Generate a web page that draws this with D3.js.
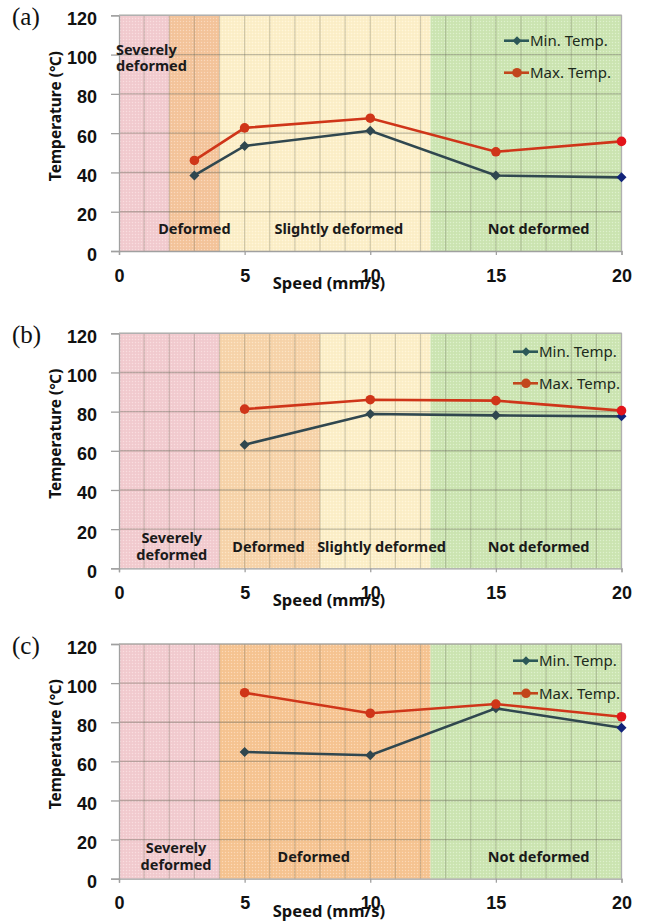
<!DOCTYPE html>
<html>
<head>
<meta charset="utf-8">
<script src="https://cdn.jsdelivr.net/npm/d3@7"></script>
<style>
  html, body { margin: 0; padding: 0; background: #fff; }
  svg { display: block; font-family: "Noto Sans", "Noto Sans CJK KR", sans-serif; }
</style>
</head>
<body>
<div id="chart"></div>
<script>
// data
const speedA = [3, 5, 10, 15, 20];
const minTempA = [38.5, 53.5, 61.2, 38.4, 37.5];
const maxTempA = [46.1, 62.7, 67.6, 50.5, 55.8];

const speedBC = [5, 10, 15, 20];
const minTempB = [63.1, 78.8, 78.1, 77.6];
const maxTempB = [81.3, 86.1, 85.6, 80.5];
const minTempC = [64.8, 63.1, 87.1, 77.2];
const maxTempC = [95.1, 84.6, 89.3, 82.8];

const zoneEdgesA = [0, 2, 4, 12.4, 20];
const zoneEdgesB = [0, 4, 8, 12.4, 20];
const zoneEdgesC = [0, 4, 12.4, 20];
const zoneNames4 = ['Severely deformed', 'Deformed', 'Slightly deformed', 'Not deformed'];
const zoneNames3 = ['Severely deformed', 'Deformed', 'Not deformed'];

const xTicks = [0, 5, 10, 15, 20];
const yTicks = [0, 20, 40, 60, 80, 100, 120];
const seriesNames = ['Min. Temp.', 'Max. Temp.'];

const zoneColor = {
  'Severely deformed': '#f3ccd0',
  'Deformed': '#f5c59c',
  'Slightly deformed': '#fdf0c9',
  'Not deformed': '#cde6b3'
};

const W = 648, H = 923;
const left = 119, right = 621.5;

const svg = d3.select('#chart').append('svg')
  .attr('width', W)
  .attr('height', H);

const defs = svg.append('defs');
const pat = defs.append('pattern')
  .attr('id', 'dots')
  .attr('width', 3).attr('height', 3)
  .attr('patternUnits', 'userSpaceOnUse');
pat.append('rect').attr('width', 1).attr('height', 1).attr('fill', '#fff').attr('opacity', 0.35);
pat.append('rect').attr('x', 1.5).attr('y', 1.5).attr('width', 1).attr('height', 1).attr('fill', '#000').attr('opacity', 0.04);

const panels = [
  {
    tag: '(a)', top: 15.3, bottom: 251,
    speed: speedA, min: minTempA, max: maxTempA,
    edges: zoneEdgesA, zones: zoneNames4, deformedColor: '#f5c59c',
    labels: [
      { lines: ['Severely', 'deformed'], x: -0.12, t: 100, anchor: 'start' },
      { lines: ['Deformed'], x: 3, t: 8.6 },
      { lines: ['Slightly deformed'], x: 8.75, t: 8.6 },
      { lines: ['Not deformed'], x: 16.7, t: 8.6 }
    ],
    legendX: -117.5, legendY: [25.4, 57.4]
  },
  {
    tag: '(b)', top: 333.3, bottom: 568.3,
    speed: speedBC, min: minTempB, max: maxTempB,
    edges: zoneEdgesB, zones: zoneNames4, deformedColor: '#f8d5ab',
    labels: [
      { lines: ['Severely', 'deformed'], x: 2.1, t: 12.7 },
      { lines: ['Deformed'], x: 5.95, t: 8.1 },
      { lines: ['Slightly deformed'], x: 10.45, t: 8.1 },
      { lines: ['Not deformed'], x: 16.7, t: 8.1 }
    ],
    legendX: -108.5, legendY: [18.4, 50]
  },
  {
    tag: '(c)', top: 644, bottom: 878.7,
    speed: speedBC, min: minTempC, max: maxTempC,
    edges: zoneEdgesC, zones: zoneNames3, deformedColor: '#f7c593',
    labels: [
      { lines: ['Severely', 'deformed'], x: 2.27, t: 13.1 },
      { lines: ['Deformed'], x: 7.75, t: 8.3 },
      { lines: ['Not deformed'], x: 16.7, t: 8.3 }
    ],
    legendX: -108.5, legendY: [16.7, 49.3]
  }
];

const minColor = '#30474f';
const maxColor = '#cf3519';

function diamond(sel, cx, cy, r, color) {
  sel.append('path')
    .attr('d', `M${cx},${cy - r}L${cx + r},${cy}L${cx},${cy + r}L${cx - r},${cy}Z`)
    .attr('fill', color);
}

panels.forEach(p => {
  const x = d3.scaleLinear().domain([0, 20]).range([left, right]);
  const y = d3.scaleLinear().domain([0, 120]).range([p.bottom, p.top]);
  const g = svg.append('g');

  // zones
  g.selectAll('rect.zone')
    .data(p.zones)
    .join('rect')
    .attr('class', 'zone')
    .attr('x', (d, i) => x(p.edges[i]))
    .attr('y', p.top)
    .attr('width', (d, i) => x(p.edges[i + 1]) - x(p.edges[i]))
    .attr('height', p.bottom - p.top)
    .attr('fill', d => d === 'Deformed' ? p.deformedColor : zoneColor[d]);

  g.append('rect')
    .attr('x', left).attr('y', p.top)
    .attr('width', right - left).attr('height', p.bottom - p.top)
    .attr('fill', 'url(#dots)');

  // grid
  g.selectAll('line.vgrid')
    .data(d3.range(1, 21))
    .join('line')
    .attr('x1', d => x(d)).attr('x2', d => x(d))
    .attr('y1', p.top).attr('y2', p.bottom)
    .attr('stroke', '#6a6a5a')
    .attr('stroke-opacity', 0.3)
    .attr('stroke-width', 1.2);

  g.selectAll('line.hgrid')
    .data(yTicks.slice(1))
    .join('line')
    .attr('x1', left).attr('x2', right)
    .attr('y1', d => y(d)).attr('y2', d => y(d))
    .attr('stroke', '#6a6a5a')
    .attr('stroke-opacity', 0.42)
    .attr('stroke-width', 1.4);

  // axes
  const yAxis = g.append('g')
    .attr('transform', `translate(${left},0)`)
    .call(d3.axisLeft(y).tickValues(yTicks).tickSize(8).tickPadding(14));
  yAxis.select('.domain').attr('stroke', '#a0a0a0').attr('stroke-width', 1.3);
  yAxis.selectAll('.tick line').attr('stroke', '#a0a0a0').attr('stroke-width', 1.3);
  yAxis.selectAll('.tick text')
    .attr('dy', '0.5em')
    .style('font-size', '18px')
    .style('font-weight', 'bold')
    .attr('fill', '#111');

  const xAxis = g.append('g')
    .attr('transform', `translate(0,${p.bottom})`)
    .call(d3.axisBottom(x).tickValues(xTicks).tickSize(4).tickPadding(14));
  xAxis.select('.domain').attr('stroke', '#a0a0a0').attr('stroke-width', 1.3);
  xAxis.selectAll('.tick line').attr('stroke', '#a0a0a0').attr('stroke-width', 1.3);
  xAxis.selectAll('.tick text')
    .style('font-size', '18px')
    .style('font-weight', 'bold')
    .attr('fill', '#111');

  // top / right frame
  g.append('path')
    .attr('d', `M${left},${p.top}H${right}V${p.bottom}`)
    .attr('fill', 'none')
    .attr('stroke', '#b0b0b0')
    .attr('stroke-width', 1.2);

  // zone labels
  p.labels.forEach(l => {
    const t = g.append('text')
      .attr('x', x(l.x))
      .attr('y', y(l.t))
      .attr('text-anchor', l.anchor || 'middle')
      .style('font-size', '14.5px')
      .style('font-weight', 'bold')
      .attr('fill', '#1a1a1a');
    l.lines.forEach((s, i) => {
      t.append('tspan').attr('x', x(l.x)).attr('dy', i === 0 ? 0 : 16.5).text(s);
    });
  });

  // series
  const line = d3.line().x(d => x(d[0])).y(d => y(d[1]));
  const minPts = p.speed.map((s, i) => [s, p.min[i]]);
  const maxPts = p.speed.map((s, i) => [s, p.max[i]]);

  g.append('path').datum(minPts).attr('d', line)
    .attr('fill', 'none').attr('stroke', minColor).attr('stroke-width', 2.6);
  g.append('path').datum(maxPts).attr('d', line)
    .attr('fill', 'none').attr('stroke', maxColor).attr('stroke-width', 2.6);

  minPts.forEach((d, i) => {
    const c = i === minPts.length - 1 ? '#12237a' : minColor;
    diamond(g, x(d[0]), y(d[1]), 5, c);
  });
  g.selectAll('circle.maxpt')
    .data(maxPts)
    .join('circle')
    .attr('cx', d => x(d[0]))
    .attr('cy', d => y(d[1]))
    .attr('r', 4.8)
    .attr('fill', (d, i) => i === maxPts.length - 1 ? '#e3141a' : maxColor);

  // legend
  const legendColors = ['#2c5858', '#c2461c'];
  seriesNames.forEach((name, i) => {
    const ly = p.top + p.legendY[i];
    const lx = right + p.legendX;
    g.append('line')
      .attr('x1', lx).attr('x2', lx + 25)
      .attr('y1', ly).attr('y2', ly)
      .attr('stroke', legendColors[i]).attr('stroke-width', 2.6);
    if (i === 0) diamond(g, lx + 13, ly, 4.5, legendColors[i]);
    else g.append('circle').attr('cx', lx + 13).attr('cy', ly).attr('r', 4.8).attr('fill', legendColors[i]);
    g.append('text')
      .attr('x', lx + 26)
      .attr('y', ly)
      .attr('dy', '0.36em')
      .style('font-size', '15px')
      .attr('fill', '#1c2a1c')
      .text(name);
  });

  // axis titles
  g.append('text')
    .attr('transform', `translate(61,${(p.top + p.bottom) / 2 - 17}) rotate(-90)`)
    .attr('text-anchor', 'middle')
    .style('font-size', '15.5px')
    .style('font-weight', 'bold')
    .attr('fill', '#111')
    .text('Temperature (℃)');

  g.append('text')
    .attr('x', 329)
    .attr('y', p.bottom + 38)
    .attr('text-anchor', 'middle')
    .style('font-size', '16.5px')
    .style('font-weight', 'bold')
    .attr('fill', '#111')
    .text('Speed (mm/s)');

  // panel tag
  g.append('text')
    .attr('x', 12)
    .attr('y', p.top + 10)
    .style('font-family', '"Liberation Serif", "Times New Roman", serif')
    .style('font-size', '25px')
    .attr('fill', '#111')
    .text(p.tag);
});
</script>
</body>
</html>
